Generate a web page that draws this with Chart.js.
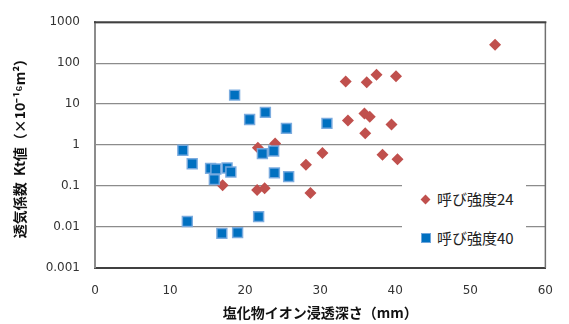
<!DOCTYPE html>
<html>
<head>
<meta charset="utf-8">
<script src="https://cdn.jsdelivr.net/npm/chart.js@4.4.1/dist/chart.umd.min.js"></script>
<style>
  body { margin: 0; background: #fff; }
  #wrap { position: relative; width: 569px; height: 324px; }
  #legend { position: absolute; left: 402px; top: 172px; width: 124px; height: 88px; background: #fff;
            font-family: 'Noto Sans CJK JP', sans-serif; font-size: 15px; color: #222; }
  .item { position: absolute; left: 0; height: 20px; line-height: 20px; }
  .item span { position: absolute; left: 35px; top: 0; white-space: nowrap; }
  .dia { position: absolute; left: 20px; top: 7px; width: 7px; height: 7px; background: #C0504D; transform: rotate(45deg); }
  .sq { position: absolute; left: 19px; top: 5px; width: 10px; height: 10px; background: #0070C0; box-sizing: border-box; border: 1px solid #6fa6dc; }
</style>
</head>
<body>
<div id="wrap">
  <canvas id="chart" width="569" height="324"></canvas>
  <div id="legend">
    <div class="item" style="top:17px"><div class="dia"></div><span>呼び強度24</span></div>
    <div class="item" style="top:56px"><div class="sq"></div><span>呼び強度40</span></div>
  </div>
</div>
<script>
// 呼び強度24 (red diamonds)
var strength24X = [53.3, 33.4, 36.2, 37.5, 40.1, 33.7, 35.9, 36.6, 36.0, 39.5, 30.3, 38.3, 40.3, 21.7, 24.0, 28.1, 17.0, 21.6, 22.6, 28.7];
var strength24Y = [282, 35.7, 34.3, 52, 47.6, 4.0, 5.9, 4.9, 1.95, 3.2, 0.64, 0.58, 0.45, 0.86, 1.1, 0.33, 0.104, 0.08, 0.088, 0.068];

// 呼び強度40 (blue squares)
var strength40X = [18.6, 20.6, 22.7, 25.5, 30.9, 11.7, 12.95, 15.4, 16.1, 17.6, 18.1, 15.9, 22.3, 23.8, 23.9, 25.8, 12.3, 16.9, 19.0, 21.8];
var strength40Y = [16.6, 4.2, 6.3, 2.56, 3.4, 0.75, 0.35, 0.27, 0.26, 0.275, 0.22, 0.144, 0.62, 0.72, 0.21, 0.17, 0.0136, 0.007, 0.0073, 0.018];

var yTicks = [0.001, 0.01, 0.1, 1, 10, 100, 1000];
var yTickLabels = ['0.001', '0.01', '0.1', '1', '10', '100', '1000'];
var xTicks = [0, 10, 20, 30, 40, 50, 60];

var seriesNames = ['呼び強度24', '呼び強度40'];
var xTitle = '塩化物イオン浸透深さ（mm）';
var yTitle = '透気係数  Kt値（×10⁻¹⁶m²）';

function toPoints(xs, ys) {
  var pts = [];
  for (var i = 0; i < xs.length; i++) {
    pts.push({x: xs[i], y: ys[i]});
  }
  return pts;
}

var frame = {
  id: 'frame',
  beforeDatasetsDraw: function(chart) {
    var a = chart.chartArea, ctx = chart.ctx;
    ctx.save();
    ctx.strokeStyle = '#707070';
    ctx.lineWidth = 1.5;
    ctx.beginPath();
    ctx.moveTo(a.right, a.top);
    ctx.lineTo(a.right, a.bottom);
    ctx.stroke();
    ctx.strokeStyle = '#404040';
    ctx.lineWidth = 2;
    ctx.beginPath();
    ctx.moveTo(a.left - 1, a.top);
    ctx.lineTo(a.right + 1, a.top);
    ctx.stroke();
    ctx.restore();
  }
};

var tickFont = {family: "'DejaVu Sans', sans-serif", size: 12};
var titleFont = {family: "'Noto Sans CJK JP', sans-serif", size: 14, weight: 'bold'};

var chart = new Chart(document.getElementById('chart').getContext('2d'), {
  type: 'scatter',
  data: {
    datasets: [
      {
        label: seriesNames[0],
        data: toPoints(strength24X, strength24Y),
        pointStyle: 'rectRot',
        pointRadius: 6,
        pointHoverRadius: 6,
        backgroundColor: '#C0504D',
        borderColor: '#C0504D',
        borderWidth: 0,
        order: 1
      },
      {
        label: seriesNames[1],
        data: toPoints(strength40X, strength40Y),
        pointStyle: 'rect',
        pointRadius: 7,
        pointHoverRadius: 7,
        backgroundColor: '#0070C0',
        borderColor: 'rgba(120,170,222,0.95)',
        borderWidth: 1.5,
        order: 0
      }
    ]
  },
  options: {
    responsive: false,
    animation: false,
    layout: {padding: {left: 0, top: 14, right: 20, bottom: 0}},
    plugins: {
      legend: {display: false},
      tooltip: {enabled: false}
    },
    scales: {
      x: {
        type: 'linear',
        min: 0,
        max: 60,
        afterBuildTicks: function(scale) {
          scale.ticks = xTicks.map(function(v) { return {value: v}; });
        },
        afterFit: function(scale) { scale.height = 56; },
        grid: {display: false, drawTicks: false},
        border: {display: true, color: '#404040', width: 2},
        ticks: {color: '#333', font: tickFont, padding: 16, maxRotation: 0},
        title: {display: true, text: xTitle, color: '#111', font: titleFont, padding: {top: 0, bottom: 3}}
      },
      y: {
        type: 'logarithmic',
        min: 0.001,
        max: 1000,
        afterBuildTicks: function(scale) {
          scale.ticks = yTicks.map(function(v) { return {value: v}; });
        },
        afterFit: function(scale) { scale.width = 95; },
        grid: {
          color: '#8c8c8c',
          lineWidth: 1.3,
          drawTicks: false
        },
        border: {display: true, color: '#8c8c8c', width: 2},
        ticks: {
          color: '#333',
          font: tickFont,
          padding: 15,
          autoSkip: false,
          callback: function(value) {
            var i = yTicks.indexOf(value);
            return i >= 0 ? yTickLabels[i] : '';
          }
        },
        title: {display: true, text: yTitle, color: '#111', font: titleFont, padding: {top: 11, bottom: 0}}
      }
    }
  },
  plugins: [frame]
});
</script>
</body>
</html>
